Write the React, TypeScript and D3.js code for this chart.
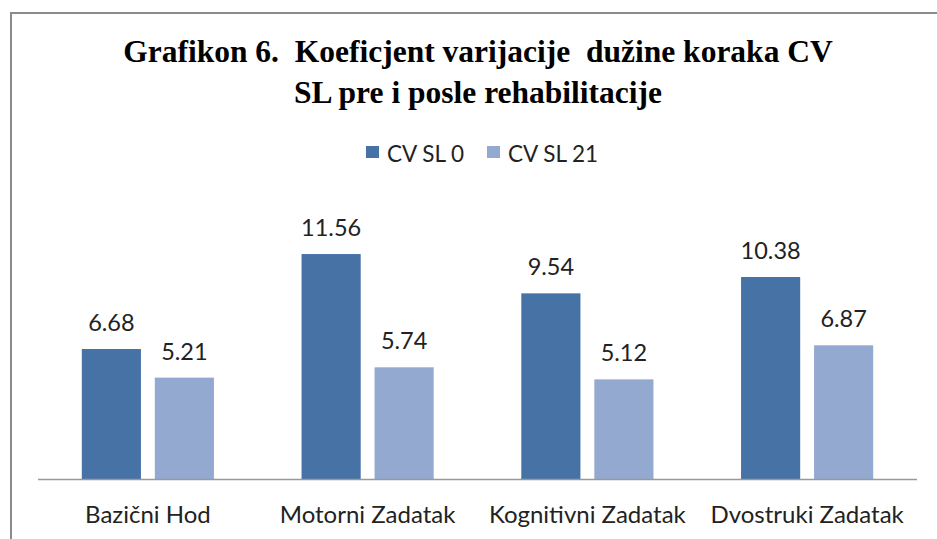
import React, { useRef, useEffect } from 'react';
import { select, scaleBand, scaleLinear } from 'd3';

// data
const categories = ['Bazični Hod', 'Motorni Zadatak', 'Kognitivni Zadatak', 'Dvostruki Zadatak'];
const seriesNames = ['CV SL 0', 'CV SL 21'];
const cvSl0 = [6.68, 11.56, 9.54, 10.38];
const cvSl21 = [5.21, 5.74, 5.12, 6.87];
const titleLines = ['Grafikon 6.  Koeficjent varijacije  dužine koraka CV', 'SL pre i posle rehabilitacije'];

const colors = ['#4672A6', '#94A9D0'];
const W = 937;
const H = 539;

function BarChart() {
  const svgRef = useRef<SVGSVGElement>(null);

  useEffect(() => {
    const svg = select(svgRef.current);
    svg.selectAll('*').remove();

    const left = 38;
    const right = 917;
    const bottom = 479;

    const x0 = scaleBand().domain(categories).range([left, right]);
    const x1 = scaleBand()
      .domain(seriesNames)
      .range([0, x0.bandwidth()])
      .paddingInner(0.19)
      .paddingOuter(0.6);
    const y = scaleLinear().domain([0, 14]).range([bottom, bottom - 14 * 19.46]);

    // outer frame (only top + left visible in the crop)
    svg.append('path')
      .attr('d', `M11,${H} L11,13 L${W},13`)
      .attr('fill', 'none')
      .attr('stroke', '#8a8a8a')
      .attr('stroke-width', 2);

    // title
    svg.selectAll('.title')
      .data(titleLines)
      .join('text')
      .attr('class', 'title')
      .attr('x', 478)
      .attr('y', (d, i) => 62 + i * 41)
      .attr('text-anchor', 'middle')
      .style('white-space', 'pre')
      .style('font-family', '"Liberation Serif", "Times New Roman", serif')
      .style('font-weight', 'bold')
      .style('font-size', '31.5px')
      .style('fill', '#000')
      .text(d => d);

    // legend
    const legendX = [366, 487];
    seriesNames.forEach((name, i) => {
      const g = svg.append('g').attr('transform', `translate(${legendX[i]},146)`);
      g.append('rect').attr('width', 13).attr('height', 12).attr('fill', colors[i]);
      g.append('text')
        .attr('x', 21)
        .attr('y', 15.5)
        .style('font-family', 'Lato, "Open Sans", sans-serif')
        .style('font-size', '22.5px')
        .style('fill', '#222')
        .text(name);
    });

    const rows = categories.map((c, i) => ({ cat: c, values: [cvSl0[i], cvSl21[i]] }));

    const groups = svg.selectAll('.group')
      .data(rows)
      .join('g')
      .attr('class', 'group')
      .attr('transform', d => `translate(${x0(d.cat)},0)`);

    groups.selectAll('rect')
      .data(d => d.values.map((v, i) => ({ key: seriesNames[i], v, i })))
      .join('rect')
      .attr('x', d => x1(d.key)!)
      .attr('y', d => y(d.v))
      .attr('width', x1.bandwidth())
      .attr('height', d => bottom - y(d.v))
      .attr('fill', d => colors[d.i]);

    groups.selectAll('.val')
      .data(d => d.values.map((v, i) => ({ key: seriesNames[i], v })))
      .join('text')
      .attr('class', 'val')
      .attr('x', d => x1(d.key)! + x1.bandwidth() / 2)
      .attr('y', d => y(d.v) - 18)
      .attr('text-anchor', 'middle')
      .style('font-family', 'Lato, "Open Sans", sans-serif')
      .style('font-size', '23.5px')
      .style('fill', '#222')
      .text(d => d.v.toFixed(2));

    // axis line
    svg.append('line')
      .attr('x1', left)
      .attr('x2', right)
      .attr('y1', bottom + 0.5)
      .attr('y2', bottom + 0.5)
      .attr('stroke', '#999')
      .attr('stroke-width', 1.5);

    // category labels
    svg.selectAll('.cat')
      .data(categories)
      .join('text')
      .attr('class', 'cat')
      .attr('x', d => x0(d)! + x0.bandwidth() / 2)
      .attr('y', 523)
      .attr('text-anchor', 'middle')
      .style('font-family', 'Lato, "Open Sans", sans-serif')
      .style('font-size', '24px')
      .style('fill', '#222')
      .text(d => d);
  }, []);

  return (
    <svg
      ref={svgRef}
      width={W}
      height={H}
      style={{ position: 'absolute', left: 0, top: 0, background: '#fff' }}
    />
  );
}

export default function App() {
  return <BarChart />;
}
